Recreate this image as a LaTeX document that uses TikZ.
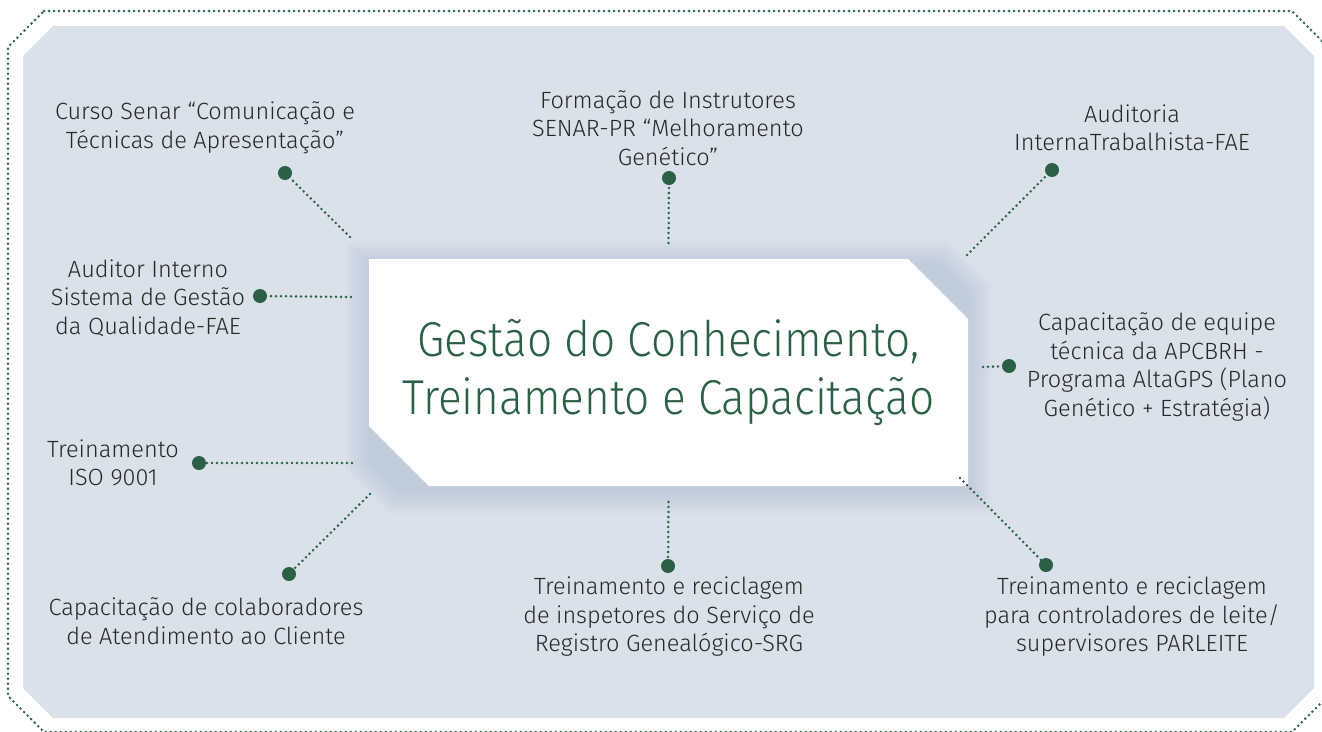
\documentclass[tikz,border=0pt]{standalone}
\usepackage{fontspec}
\setmainfont{Fira Sans}[UprightFont={* Light}]
\usetikzlibrary{shapes.misc}

\definecolor{leafgreen}{RGB}{44,96,70}
\definecolor{panelgray}{RGB}{218,225,232}
\definecolor{inkgray}{RGB}{40,40,40}
\definecolor{shadegray}{RGB}{110,125,148}

\tikzset{
  topic/.style={align=center, text=inkgray, inner sep=0pt,
    font=\fontsize{23.5}{28.5}\selectfont},
  pindot/.style={circle, fill=leafgreen, minimum size=14pt, inner sep=0pt},
  dotline/.style={leafgreen, line width=2.8pt, line cap=round,
    dash pattern=on 0pt off 5pt},
  corebox/.style={chamfered rectangle,
    chamfered rectangle corners={north east,south west},
    chamfered rectangle sep=30pt, fill=white,
    minimum width=599pt, minimum height=227pt, inner sep=0pt,
    text=leafgreen, align=center,
    font=\fontsize{49}{58}\selectfont\addfontfeatures{FakeStretch=0.9}}
}

\begin{document}
\begin{tikzpicture}[x=1pt,y=-1pt]
  \useasboundingbox (0,0) rectangle (1322,731);
  % frame and panel
  \draw[dotline] (44,11) -- (1292,11) -- (1328,47) -- (1328,696) -- (1292,732)
    -- (44,732) -- (8,696) -- (8,47) -- cycle;
  \fill[panelgray] (53,26) -- (1284,26) -- (1314,56) -- (1314,688) -- (1284,718)
    -- (53,718) -- (23,688) -- (23,56) -- cycle;
  % soft shadow under the central box
  \foreach \s in {2,4,...,24}
    \fill[shadegray, opacity=0.011]
      (369-\s,264-\s) -- (938+0.414*\s,264-\s) -- (968+\s,294-0.414*\s)
      -- (968+\s,491+\s) -- (399-0.414*\s,491+\s) -- (369-\s,461+0.414*\s) -- cycle;

  \node[corebox] (core) at (668.5,372.5)
    {Gestão do Conhecimento,\\Treinamento e Capacitação};

  % labels
  \node[topic] (l1) at (205,128) {Curso Senar “Comunicação e\\Técnicas de Apresentação”};
  \node[topic] (l2) at (668,128) {Formação de Instrutores\\SENAR-PR “Melhoramento\\Genético”};
  \node[topic] (l3) at (1132,128) {Auditoria\\InternaTrabalhista-FAE};
  \node[topic] (l4) at (148,298) {Auditor Interno\\Sistema de Gestão\\da Qualidade-FAE};
  \node[topic] (l5) at (1157,367) {Capacitação de equipe\\técnica da APCBRH -\\Programa AltaGPS (Plano\\Genético + Estratégia)};
  \node[topic] (l6) at (113,463) {Treinamento\\ISO 9001};
  \node[topic] (l7) at (206,621) {Capacitação de colaboradores\\de Atendimento ao Cliente};
  \node[topic] (l8) at (669,617) {Treinamento e reciclagem\\de inspetores do Serviço de\\Registro Genealógico-SRG};
  \node[topic] (l9) at (1132,617) {Treinamento e reciclagem\\para controladores de leite/\\supervisores PARLEITE};

  % dots
  \node[pindot] (d1) at (285,173) {};
  \node[pindot] (d2) at (669,178) {};
  \node[pindot] (d3) at (1052,170) {};
  \node[pindot] (d4) at (260,296) {};
  \node[pindot] (d5) at (1009,366) {};
  \node[pindot] (d6) at (199,463) {};
  \node[pindot] (d7) at (289,574) {};
  \node[pindot] (d8) at (668,566) {};
  \node[pindot] (d9) at (1046,565) {};

  % free ends near the box
  \coordinate (e1) at ([shift={(-318.5,-135.5)}]core.center);
  \coordinate (e2) at ([shift={(0,-129.5)}]core.center);
  \coordinate (e3) at ([shift={(298.5,-117.5)}]core.center);
  \coordinate (e4) at ([shift={(-317.5,-75.5)}]core.center);
  \coordinate (e5) at ([shift={(314.5,-5.5)}]core.center);
  \coordinate (e6) at ([shift={(-316.5,90.5)}]core.center);
  \coordinate (e7) at ([shift={(-298.5,121.5)}]core.center);
  \coordinate (e8) at ([shift={(0,129.5)}]core.center);
  \coordinate (e9) at ([shift={(291.5,105.5)}]core.center);

  \foreach \i in {1,...,9}
    \draw[dotline] (e\i) -- (d\i);
\end{tikzpicture}
\end{document}
